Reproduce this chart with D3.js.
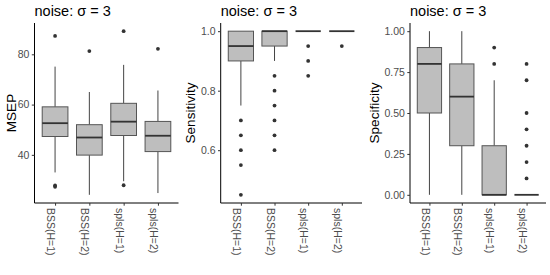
<!DOCTYPE html>
<html><head><meta charset="utf-8">
<script src="https://cdn.jsdelivr.net/npm/d3@7"></script>
<style>body{margin:0;background:#fff}svg{display:block}text{font-family:"Liberation Sans",Arial,Helvetica,sans-serif}</style>
</head><body>
<svg id="c" width="550" height="275"></svg>
<script>
const categories = ["BSS(H=1)","BSS(H=2)","spls(H=1)","spls(H=2)"];
const titleText = "noise: σ = 3";

const msepLow  = [33.0, 24.1, 29.5, 24.8];
const msepQ1   = [47.3, 39.9, 47.7, 41.3];
const msepMed  = [52.6, 46.9, 53.2, 47.6];
const msepQ3   = [59.1, 52.0, 60.5, 53.3];
const msepHigh = [75.1, 65.0, 75.8, 65.6];
const msepOut  = [[87.3, 27.8, 27.3], [81.3], [89.2, 27.9], [82.2]];
const msepTicks = [40, 60, 80];

const sensLow  = [0.75, 0.90, 1.00, 1.00];
const sensQ1   = [0.90, 0.95, 1.00, 1.00];
const sensMed  = [0.95, 1.00, 1.00, 1.00];
const sensQ3   = [1.00, 1.00, 1.00, 1.00];
const sensHigh = [1.00, 1.00, 1.00, 1.00];
const sensOut  = [[0.70, 0.65, 0.60, 0.55, 0.45], [0.85, 0.80, 0.75, 0.70, 0.65, 0.60], [0.95, 0.90, 0.85], [0.95]];
const sensTicks = [0.6, 0.8, 1.0];

const specLow  = [0.0, 0.0, 0.0, 0.0];
const specQ1   = [0.5, 0.3, 0.0, 0.0];
const specMed  = [0.8, 0.6, 0.0, 0.0];
const specQ3   = [0.9, 0.8, 0.3, 0.0];
const specHigh = [1.0, 1.0, 0.7, 0.0];
const specOut  = [[], [], [0.9, 0.8], [0.8, 0.7, 0.5, 0.4, 0.3, 0.2, 0.1]];
const specTicks = [0, 0.25, 0.5, 0.75, 1.0];

const panels = [
  {ylab:"MSEP", left:34.5, right:178.5, ylabX:16, low:msepLow,q1:msepQ1,med:msepMed,q3:msepQ3,high:msepHigh,out:msepOut,ticks:msepTicks,fmt:d3.format("d")},
  {ylab:"Sensitivity", left:220.7, right:362, ylabX:195, low:sensLow,q1:sensQ1,med:sensMed,q3:sensQ3,high:sensHigh,out:sensOut,ticks:sensTicks,fmt:d3.format(".1f")},
  {ylab:"Specificity", left:410, right:546, ylabX:378.5, low:specLow,q1:specQ1,med:specMed,q3:specQ3,high:specHigh,out:specOut,ticks:specTicks,fmt:d3.format(".2f")}
];

const plotTop = 23, plotBottom = 203;
const svg = d3.select("#c");

panels.forEach(p => {
  const all = [].concat(p.low, p.high, ...p.out);
  const [mn, mx] = d3.extent(all);
  const pad = (mx - mn) * 0.05;
  const y = d3.scaleLinear().domain([mn - pad, mx + pad]).range([plotBottom, plotTop]);
  const x = d3.scalePoint().domain(categories).range([p.left, p.right]).padding(0.6);
  const bw = x.step() * 0.75;
  const g = svg.append("g");

  g.append("text").attr("x", p.left).attr("y", 16).attr("font-size", 14.5).attr("fill", "#000").text(titleText);

  g.append("text").attr("transform", `translate(${p.ylabX},${(plotTop+plotBottom)/2}) rotate(-90)`)
    .attr("text-anchor", "middle").attr("font-size", 13.5).attr("fill", "#000").text(p.ylab);

  categories.forEach((c, i) => {
    const cx = x(c);
    g.append("line").attr("x1", cx).attr("x2", cx).attr("y1", y(p.q3[i])).attr("y2", y(p.high[i]))
      .attr("stroke", "#444").attr("stroke-width", 1);
    g.append("line").attr("x1", cx).attr("x2", cx).attr("y1", y(p.q1[i])).attr("y2", y(p.low[i]))
      .attr("stroke", "#444").attr("stroke-width", 1);
    g.append("rect").attr("x", cx - bw/2).attr("width", bw)
      .attr("y", y(p.q3[i])).attr("height", Math.max(0, y(p.q1[i]) - y(p.q3[i])))
      .attr("fill", "#bebebe").attr("stroke", "#555").attr("stroke-width", 1);
    g.append("line").attr("x1", cx - bw/2).attr("x2", cx + bw/2).attr("y1", y(p.med[i])).attr("y2", y(p.med[i]))
      .attr("stroke", "#333").attr("stroke-width", 1.8);
    p.out[i].forEach(v => {
      g.append("circle").attr("cx", cx).attr("cy", y(v)).attr("r", 1.9).attr("fill", "#333");
    });
  });

  const ya = g.append("g").attr("transform", `translate(${p.left},0)`)
    .call(d3.axisLeft(y).tickValues(p.ticks).tickFormat(p.fmt).tickSize(2.7).tickPadding(2.5));
  ya.select(".domain").attr("stroke", "#000").attr("stroke-width", 1).attr("d", `M0,${plotTop}V${plotBottom}`);
  ya.selectAll(".tick line").attr("stroke", "#333");
  ya.selectAll(".tick text").attr("fill", "#4d4d4d").attr("font-size", 10.5).attr("font-family", '"Liberation Sans",Arial,sans-serif');

  const xa = g.append("g").attr("transform", `translate(0,${plotBottom})`)
    .call(d3.axisBottom(x).tickSize(2.7).tickSizeOuter(0));
  xa.select(".domain").attr("stroke", "#000").attr("stroke-width", 1).attr("d", `M${p.left},0H${p.right}`);
  xa.selectAll(".tick line").attr("stroke", "#333");
  xa.selectAll(".tick text").attr("fill", "#4d4d4d").attr("font-size", 10.5)
    .attr("font-family", '"Liberation Sans",Arial,sans-serif')
    .attr("transform", "rotate(90)").attr("text-anchor", "start")
    .attr("x", 5).attr("y", 0).attr("dy", "0.8em");
});
</script>
</body></html>
